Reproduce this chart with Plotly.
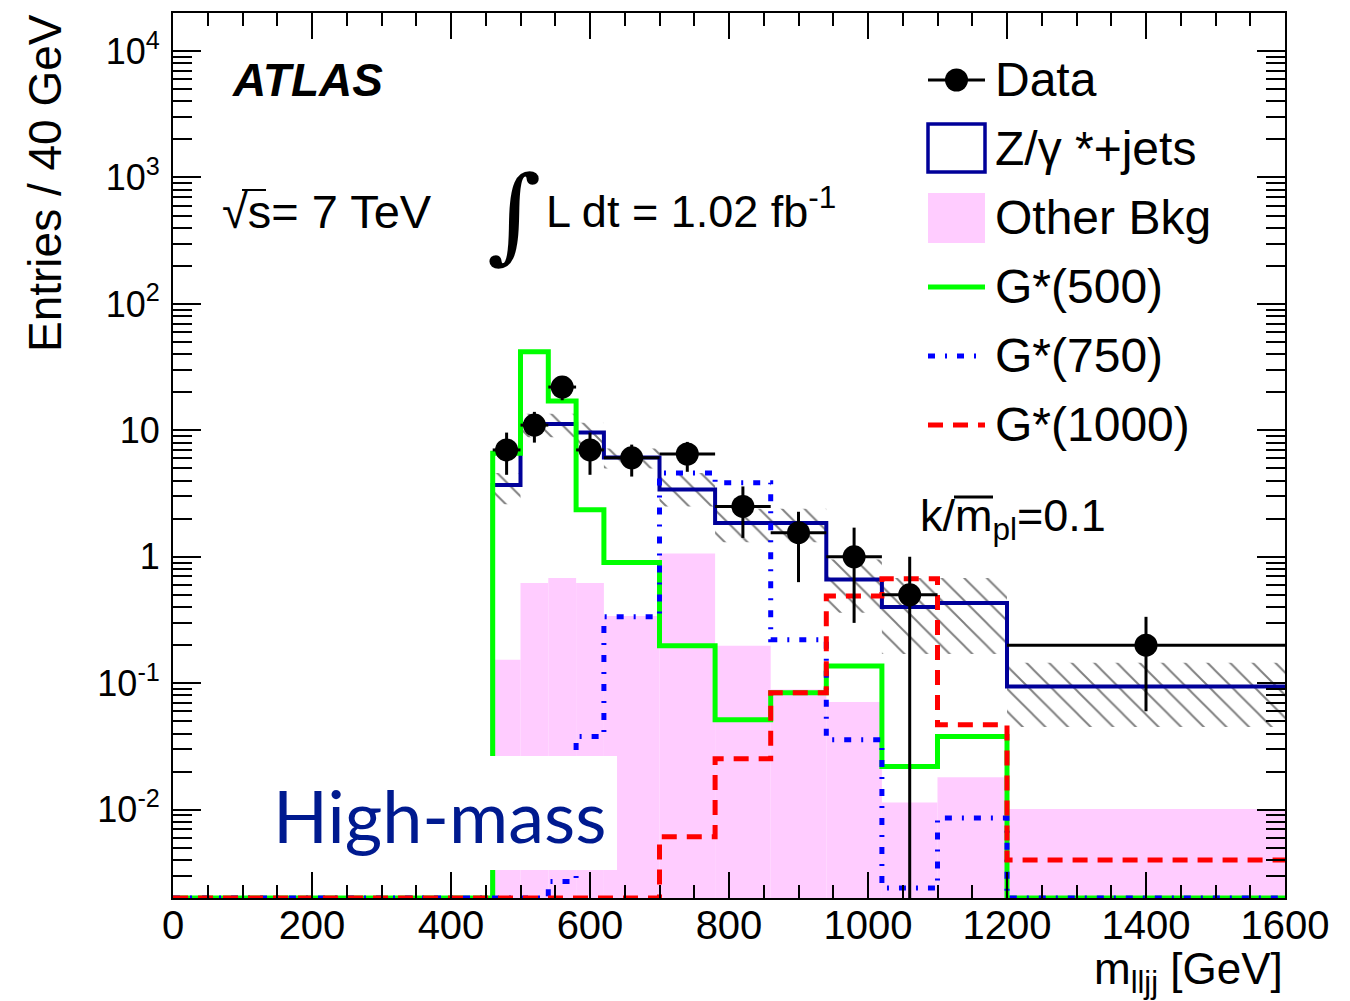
import numpy as np
import plotly.graph_objects as go

# ---------------- data ----------------
bin_edges = [0, 460, 500, 540, 580, 620, 700, 780, 860, 940, 1020, 1100, 1200, 1600]
# one value per bin (first bin 0-460 is empty)
z_jets    = [0, 3.7, 11.2, 11.2, 9.6, 6.1, 3.4, 1.85, 1.85, 0.66, 0.40, 0.43, 0.094]
other_bkg = [0, 0.153, 0.62, 0.68, 0.62, 0.34, 1.06, 0.198, 0.089, 0.071, 0.0114, 0.018, 0.0101]
g500      = [0, 6.6, 41.8, 17.1, 2.35, 0.90, 0.198, 0.0514, 0.084, 0.137, 0.0219, 0.0378, 0]
g750      = [0, 0, 0, 0.0027, 0.0378, 0.336, 4.6, 3.85, 0.221, 0.0357, 0.0024, 0.0086, 0]
g1000     = [0, 0, 0, 0, 0, 0, 0.0061, 0.0253, 0.084, 0.49, 0.67, 0.047, 0.0040]

# uncertainty band on Z+jets (bins from 460 on)
band_edges = [460, 500, 540, 580, 620, 700, 780, 860, 940, 1020, 1100, 1200, 1600]
band_hi = [4.6, 13.5, 13.5, 11.5, 7.2, 4.6, 2.4, 2.4, 0.95, 0.68, 0.68, 0.145]
band_lo = [2.6, 8.8, 8.8, 7.0, 5.0, 2.5, 1.3, 1.3, 0.36, 0.17, 0.17, 0.045]

data_x     = [480, 520, 560, 600, 660, 740, 820, 900, 980, 1060, 1400]
data_y     = [7.0, 11.0, 22.0, 7.0, 6.06, 6.5, 2.5, 1.55, 1.0, 0.5, 0.2]
data_up    = [2.6, 3.0, 4.7, 2.6, 1.65, 1.6, 1.1, 0.72, 0.70, 0.50, 0.135]
data_dn    = [2.55, 3.0, 4.7, 2.55, 1.75, 1.8, 1.09, 0.92, 0.70, 0.499, 0.14]
data_xerr  = [20, 20, 20, 20, 40, 40, 40, 40, 40, 40, 200]

x_ticks = [0, 200, 400, 600, 800, 1000, 1200, 1400, 1600]
y_tick_vals = [0.01, 0.1, 1, 10, 100, 1000, 10000]
y_tick_text = ["10<sup>-2</sup>", "10<sup>-1</sup>", "1", "10",
               "10<sup>2</sup>", "10<sup>3</sup>", "10<sup>4</sup>"]

Y_MIN, Y_MAX = 0.002, 2.0e4
FONT = "Liberation Sans, Arial, Helvetica, sans-serif"

# ---------------- helpers ----------------
W, H = 1350, 1001
L, R, T, B = 173, 1285, 13, 898


def px(xp):
    return (xp - L) / (R - L)


def py(yp):
    return (B - yp) / (B - T)


def step(values):
    v = [val if val > 0 else Y_MIN for val in values]
    return bin_edges, v + [v[-1]]


fig = go.Figure()

# Other background (filled)
centers = [(bin_edges[i] + bin_edges[i + 1]) / 2 for i in range(len(other_bkg))]
widths = [bin_edges[i + 1] - bin_edges[i] for i in range(len(other_bkg))]
fig.add_trace(go.Bar(x=centers, y=[v if v > 0 else None for v in other_bkg], width=widths,
                     marker=dict(color="#ffccff", line=dict(width=0)), showlegend=False))

# hatched uncertainty band
bx, by = [], []
for i in range(len(band_hi)):
    bx += [band_edges[i], band_edges[i + 1]]
    by += [band_hi[i], band_hi[i]]
for i in reversed(range(len(band_lo))):
    bx += [band_edges[i + 1], band_edges[i]]
    by += [band_lo[i], band_lo[i]]
bx.append(bx[0]); by.append(by[0])
fig.add_trace(go.Scatter(x=bx, y=by, mode="lines", fill="toself", line=dict(width=0),
                         fillcolor="rgba(0,0,0,0)",
                         fillpattern=dict(shape="\\", fgcolor="black", bgcolor="rgba(0,0,0,0)",
                                          size=16, solidity=0.12, fillmode="overlay"),
                         showlegend=False, hoverinfo="skip"))

# Z+jets
x, y = step(z_jets)
fig.add_trace(go.Scatter(x=x, y=y, mode="lines", line=dict(shape="hv", color="#000099", width=4),
                         showlegend=False))
# signals
BLUE_DASH = "7px,10px,2px,10px"
RED_DASH = "15px,10px"
x, y = step(g500)
fig.add_trace(go.Scatter(x=x, y=y, mode="lines", line=dict(shape="hv", color="#00ff00", width=5),
                         showlegend=False))
x, y = step(g750)
fig.add_trace(go.Scatter(x=x, y=y, mode="lines",
                         line=dict(shape="hv", color="#0000ff", width=5, dash=BLUE_DASH),
                         showlegend=False))
x, y = step(g1000)
fig.add_trace(go.Scatter(x=x, y=y, mode="lines",
                         line=dict(shape="hv", color="#ff0000", width=5, dash=RED_DASH),
                         showlegend=False))

# data
fig.add_trace(go.Scatter(x=data_x, y=data_y, mode="markers",
                         marker=dict(color="black", size=23, symbol="circle"),
                         error_y=dict(type="data", array=data_up, arrayminus=data_dn,
                                      color="black", thickness=3, width=0),
                         error_x=dict(type="data", array=data_xerr, color="black",
                                      thickness=3, width=0),
                         showlegend=False))

# ---------------- axes ----------------
fig.update_xaxes(range=[0, 1600], tickvals=x_ticks, ticks="inside", ticklen=26, tickwidth=2,
                 tickcolor="black", showline=True, linewidth=2, linecolor="black",
                 mirror="allticks", showgrid=False, zeroline=False, ticklabelstandoff=-9,
                 tickfont=dict(family=FONT, size=40, color="black"),
                 minor=dict(dtick=50, tick0=0, ticks="inside", ticklen=13, tickwidth=2,
                            tickcolor="black", showgrid=False))
fig.update_yaxes(type="log", range=[np.log10(Y_MIN), np.log10(Y_MAX)],
                 tickmode="array", tickvals=y_tick_vals, ticktext=y_tick_text,
                 ticks="inside", ticklen=28, tickwidth=2, ticklabelstandoff=4,
                 tickcolor="black", showline=True, linewidth=2, linecolor="black",
                 mirror="allticks", showgrid=False, zeroline=False,
                 tickfont=dict(family=FONT, size=36, color="black"),
                 minor=dict(dtick="D1", ticks="inside", ticklen=19, tickwidth=2,
                            tickcolor="black", showgrid=False))

annotations = []
shapes = []

# axis titles
annotations.append(dict(text="Entries / 40 GeV", x=px(45), y=py(183), xref="paper", yref="paper",
                        textangle=-90, showarrow=False, xanchor="center", yanchor="middle",
                        font=dict(family=FONT, size=46, color="black")))
annotations.append(dict(text="m<sub>lljj</sub> [GeV]", x=1.0, y=py(972), xref="paper", yref="paper",
                        showarrow=False, xanchor="right", yanchor="middle",
                        font=dict(family=FONT, size=44, color="black")))

# labels
annotations.append(dict(text="<b><i>ATLAS</i></b>", x=px(230), y=py(80), xref="paper", yref="paper",
                        showarrow=False, xanchor="left", yanchor="middle",
                        font=dict(family=FONT, size=46, color="black")))
annotations.append(dict(text="\u221As= 7 TeV", x=px(220), y=py(211), xref="paper", yref="paper",
                        showarrow=False, xanchor="left", yanchor="middle",
                        font=dict(family=FONT, size=47, color="black")))
shapes.append(dict(type="line", xref="paper", yref="paper", x0=px(242), x1=px(266),
                   y0=py(190), y1=py(190), line=dict(color="black", width=2)))
annotations.append(dict(text="\u222B", x=px(514), y=py(214), xref="paper", yref="paper",
                        showarrow=False, xanchor="center", yanchor="middle",
                        font=dict(family="DejaVu Serif", size=104, color="black")))
annotations.append(dict(text="L dt = 1.02 fb<sup>-1</sup>", x=px(544), y=py(208), xref="paper",
                        yref="paper", showarrow=False, xanchor="left", yanchor="middle",
                        font=dict(family=FONT, size=45, color="black")))
annotations.append(dict(text="k/m<sub>pl</sub>=0.1", x=px(918), y=py(518), xref="paper",
                        yref="paper", showarrow=False, xanchor="left", yanchor="middle",
                        font=dict(family=FONT, size=45, color="black")))
shapes.append(dict(type="line", xref="paper", yref="paper", x0=px(954), x1=px(993),
                   y0=py(497), y1=py(497), line=dict(color="black", width=3)))

# High-mass label with white box
shapes.append(dict(type="rect", xref="paper", yref="paper", x0=px(250), x1=px(617),
                   y0=py(870), y1=py(756), fillcolor="white", line=dict(width=0), layer="above"))
annotations.append(dict(text="High-mass", x=px(271), y=py(815), xref="paper", yref="paper",
                        showarrow=False, xanchor="left", yanchor="middle",
                        font=dict(family="Lato", size=72, color="#001a8f")))

# ---------------- manual legend ----------------
LX0, LX1 = 928, 985
TX = 993
legend_font = dict(family=FONT, size=48, color="black")
# Data
shapes.append(dict(type="line", xref="paper", yref="paper", x0=px(LX0), x1=px(LX1),
                   y0=py(80), y1=py(80), line=dict(color="black", width=3)))
shapes.append(dict(type="circle", xref="paper", yref="paper", x0=px(945), x1=px(968),
                   y0=py(91.5), y1=py(68.5), fillcolor="black", line=dict(width=0)))
# Z+jets
shapes.append(dict(type="rect", xref="paper", yref="paper", x0=px(LX0), x1=px(LX1),
                   y0=py(172), y1=py(124), fillcolor="white",
                   line=dict(color="#000099", width=3.5)))
# Other bkg
shapes.append(dict(type="rect", xref="paper", yref="paper", x0=px(LX0), x1=px(LX1),
                   y0=py(243), y1=py(193), fillcolor="#ffccff", line=dict(width=0)))
# signals
shapes.append(dict(type="line", xref="paper", yref="paper", x0=px(LX0), x1=px(LX1),
                   y0=py(287), y1=py(287), line=dict(color="#00ff00", width=5)))
shapes.append(dict(type="line", xref="paper", yref="paper", x0=px(LX0), x1=px(LX1),
                   y0=py(356), y1=py(356), line=dict(color="#0000ff", width=5, dash=BLUE_DASH)))
shapes.append(dict(type="line", xref="paper", yref="paper", x0=px(LX0), x1=px(LX1),
                   y0=py(425), y1=py(425), line=dict(color="#ff0000", width=5, dash=RED_DASH)))

legend_items = [("Data", 80), ("Z/\u03B3 *+jets", 148), ("Other Bkg", 217),
                ("G*(500)", 286), ("G*(750)", 355), ("G*(1000)", 424)]
for txt, yc in legend_items:
    annotations.append(dict(text=txt, x=px(TX), y=py(yc), xref="paper", yref="paper",
                            showarrow=False, xanchor="left", yanchor="middle", font=legend_font))

fig.update_layout(width=W, height=H, margin=dict(l=L, r=W - R, t=T, b=H - B),
                  plot_bgcolor="white", paper_bgcolor="white",
                  annotations=annotations, shapes=shapes, showlegend=False,
                  barmode="overlay")

fig.write_html("out.html")
